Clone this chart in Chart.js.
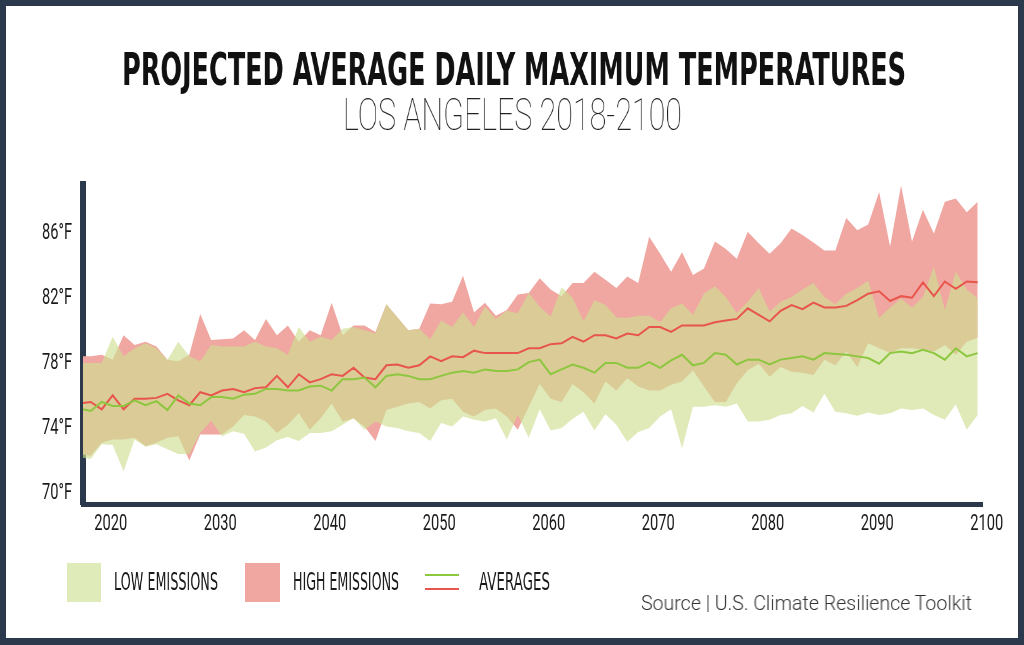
<!DOCTYPE html>
<html>
<head>
<meta charset="utf-8">
<title>Projected Average Daily Maximum Temperatures</title>
<script src="https://cdn.jsdelivr.net/npm/chart.js@4/dist/chart.umd.min.js"></script>
<style>
    html, body { margin: 0; padding: 0; }
    body { width: 1024px; height: 645px; background: #2c384b; position: relative; overflow: hidden; }
    #panel { position: absolute; left: 6px; top: 6px; right: 6px; bottom: 7px; background: #fff; }
    #chartBox { position: absolute; left: 0; top: 0; width: 1024px; height: 645px; }
    .txt { position: absolute; white-space: nowrap; line-height: 1; transform-origin: 0 0; will-change: transform; -webkit-font-smoothing: antialiased; }
    .cond { font-family: 'DejaVu Sans Condensed', 'DejaVu Sans', sans-serif; font-stretch: condensed; }
    #title { left: 122px; top: 47px; font-size: 45px; font-weight: bold; color: #111; }
    #subtitle { left: 343px; top: 92px; font-family: Roboto, sans-serif; font-weight: 100; font-size: 45px; color: #222; }
    .legTxt { top: 569px; font-size: 25px; color: #1a1a1a; }
    #source { left: 641px; top: 593px; font-family: Roboto, sans-serif; font-weight: 300; font-size: 20px; color: #333; }
    .swatch { position: absolute; top: 563px; height: 39px; }
    .legLine { position: absolute; left: 425px; width: 34px; height: 2px; }
</style>
</head>
<body>
<div id="panel"></div>

<div id="title" class="txt cond">PROJECTED AVERAGE DAILY MAXIMUM TEMPERATURES</div>
<div id="subtitle" class="txt">LOS ANGELES 2018-2100</div>

<div id="chartBox"><canvas id="tempChart" width="1024" height="645"></canvas></div>

<!-- Leyenda -->
<div class="swatch" style="left:67px;width:34px;background:#dfebb9"></div>
<div id="legLow" class="txt cond legTxt" style="left:114px">LOW EMISSIONS</div>
<div class="swatch" style="left:245px;width:35px;background:#f0a7a1"></div>
<div id="legHigh" class="txt cond legTxt" style="left:293px">HIGH EMISSIONS</div>
<div class="legLine" style="top:574px;background:#8dc63f"></div>
<div class="legLine" style="top:588px;background:#e8554d"></div>
<div id="legAvg" class="txt cond legTxt" style="left:479px">AVERAGES</div>

<div id="source" class="txt">Source | U.S. Climate Resilience Toolkit</div>

<script>
// Años
const years = [
    2018, 2019, 2020, 2021, 2022, 2023, 2024, 2025, 2026, 2027,
    2028, 2029, 2030, 2031, 2032, 2033, 2034, 2035, 2036, 2037,
    2038, 2039, 2040, 2041, 2042, 2043, 2044, 2045, 2046, 2047,
    2048, 2049, 2050, 2051, 2052, 2053, 2054, 2055, 2056, 2057,
    2058, 2059, 2060, 2061, 2062, 2063, 2064, 2065, 2066, 2067,
    2068, 2069, 2070, 2071, 2072, 2073, 2074, 2075, 2076, 2077,
    2078, 2079, 2080, 2081, 2082, 2083, 2084, 2085, 2086, 2087,
    2088, 2089, 2090, 2091, 2092, 2093, 2094, 2095, 2096, 2097,
    2098, 2099, 2100
];

// Bajas emisiones: rango mínimo / máximo y promedio
const lowMin = [
    72.1, 72.0, 72.9, 72.85, 71.25, 73.2, 72.75, 72.9, 72.6, 72.3,
    72.3, 73.6, 74.35, 73.4, 73.7, 73.55, 72.45, 72.7, 73.15, 73.35,
    73.1, 73.6, 73.6, 73.7, 74.1, 74.5, 73.8, 74.3, 74.0, 73.9,
    73.7, 73.6, 73.1, 74.2, 74.0, 74.6, 74.4, 74.3, 74.5, 73.2,
    74.7, 73.3, 75.05, 73.75, 73.9, 74.45, 74.9, 73.75, 74.75, 74.1,
    73.05, 73.65, 73.9, 74.6, 75.05, 72.65, 75.2, 75.2, 75.3, 75.2,
    75.4, 74.3, 74.3, 74.4, 74.7, 74.8, 75.25, 74.85, 76.0, 74.9,
    74.8, 74.65, 74.85, 74.7, 74.8, 75.1, 75.0, 75.1, 74.7, 74.4,
    75.35, 73.8, 74.7
];
const lowMax = [
    77.9, 77.9, 77.9, 79.5, 78.3, 78.8, 79.1, 78.8, 78.1, 79.2,
    78.3, 78.0, 79.0, 78.9, 78.9, 78.9, 79.2, 78.9, 78.8, 78.4,
    80.1, 79.2, 79.5, 79.3, 80.0, 80.1, 79.9, 79.7, 81.5, 80.7,
    79.9, 80.0, 79.35, 80.5, 80.1, 81.0, 80.1, 81.35, 80.6, 81.1,
    80.95, 82.2, 81.35, 80.75, 82.55, 81.9, 80.45, 81.75, 81.45, 80.7,
    80.65, 80.8, 80.8, 80.4, 81.25, 81.55, 80.85, 82.15, 82.6, 81.95,
    80.95, 81.65, 82.5, 81.05, 81.65, 81.95, 82.4, 82.8, 81.95, 81.5,
    82.15, 82.5, 82.95, 80.65, 81.3, 81.85, 81.3, 81.95, 83.8, 81.15,
    83.5, 82.4, 81.85
];
const lowAvg = [
    75.1, 74.95, 75.5, 75.25, 75.25, 75.6, 75.3, 75.55, 75.0, 75.9,
    75.4, 75.3, 75.8, 75.8, 75.7, 75.95, 76.0, 76.3, 76.3, 76.2,
    76.2, 76.45, 76.5, 76.2, 76.9, 76.9, 77.0, 76.4, 77.1, 77.2,
    77.1, 76.9, 76.9, 77.1, 77.3, 77.4, 77.3, 77.5, 77.4, 77.4,
    77.5, 77.95, 78.1, 77.2, 77.5, 77.8, 77.6, 77.3, 77.9, 77.9,
    77.6, 77.6, 77.95, 77.6, 78.05, 78.4, 77.75, 77.9, 78.5, 78.4,
    77.8, 78.1, 78.1, 77.8, 78.1, 78.2, 78.3, 78.1, 78.5, 78.45,
    78.4, 78.3, 78.2, 77.85, 78.5, 78.6, 78.5, 78.7, 78.5, 78.1,
    78.8, 78.3, 78.5
];

// Altas emisiones: rango mínimo / máximo y promedio
const highMin = [
    72.3, 72.2, 73.0, 73.2, 73.2, 73.3, 72.8, 73.0, 73.3, 73.4,
    71.9, 73.5, 73.5, 73.5, 74.0, 74.7, 74.6, 74.3, 73.6, 74.1,
    74.8, 73.8, 74.5, 75.4, 74.3, 74.5, 74.0, 73.1, 75.0, 75.2,
    75.4, 75.5, 75.1, 75.6, 75.7, 74.9, 74.6, 75.0, 75.1, 74.6,
    73.8, 75.2, 76.6, 75.7, 75.5, 76.6, 76.1, 75.4, 76.75, 76.2,
    76.95, 76.45, 76.2, 76.2, 76.55, 76.75, 77.45, 76.45, 75.5, 75.5,
    76.65, 77.45, 77.85, 77.05, 77.65, 77.35, 77.3, 77.15, 78.1, 77.75,
    78.6, 77.65, 79.1, 78.8, 78.5, 78.8, 78.8, 78.7, 78.6, 79.0,
    78.4, 79.2, 79.45
];
const highMax = [
    78.3, 78.3, 78.4, 78.1, 79.6, 79.0, 79.2, 78.9, 78.1, 78.0,
    78.4, 80.9, 79.3, 79.35, 79.4, 79.9, 79.3, 80.6, 79.6, 80.2,
    79.2, 79.9, 79.6, 81.6, 79.6, 80.2, 80.2, 79.8, 81.5, 80.7,
    79.9, 80.0, 81.55, 81.5, 81.66, 83.25, 81.0, 81.6, 80.8, 81.15,
    82.1, 82.2, 83.1, 82.4, 82.0, 82.8, 82.8, 83.5, 83.0, 82.5,
    83.2, 82.8, 85.65, 84.6, 83.5, 84.7, 83.3, 83.7, 85.35, 84.9,
    84.3, 85.95, 85.25, 84.6, 85.25, 86.15, 85.75, 85.3, 84.8, 84.8,
    86.8, 86.05, 86.4, 88.4, 85.05, 88.8, 85.35, 87.3, 85.85, 87.8,
    88.0, 87.15, 87.8
];
const highAvg = [
    75.4, 75.5, 75.05, 75.9, 75.05, 75.7, 75.7, 75.75, 76.0, 75.6,
    75.3, 76.1, 75.9, 76.2, 76.3, 76.1, 76.35, 76.4, 77.1, 76.4,
    77.2, 76.7, 76.9, 77.2, 77.1, 77.6, 77.0, 76.9, 77.75, 77.8,
    77.6, 77.75, 78.3, 78.0, 78.3, 78.25, 78.65, 78.5, 78.5, 78.5,
    78.5, 78.8, 78.8, 79.05, 79.1, 79.5, 79.2, 79.6, 79.6, 79.4,
    79.7, 79.6, 80.1, 80.1, 79.8, 80.2, 80.2, 80.2, 80.4, 80.5,
    80.6, 81.25, 80.85, 80.45, 81.1, 81.45, 81.2, 81.6, 81.3, 81.3,
    81.4, 81.75, 82.15, 82.3, 81.7, 82.0, 81.9, 82.85, 82.0, 82.9,
    82.45, 82.9, 82.85
];

// Marcas de los ejes
const xTicks = [2020, 2030, 2040, 2050, 2060, 2070, 2080, 2090, 2100];
const yTicks = [70, 74, 78, 82, 86];

const AXIS_COLOR = '#2c384b';

function toPoints(values) {
    return values.map((v, i) => ({ x: years[i], y: v }));
}

function edge(values, order) {
    return {
        data: toPoints(values),
        borderColor: 'rgba(0,0,0,0)',
        borderWidth: 0,
        pointRadius: 0,
        fill: false,
        order: order
    };
}

function fitWidth(id, width) {
    const el = document.getElementById(id);
    const k = width / el.getBoundingClientRect().width;
    el.style.transform = 'scaleX(' + k + ')';
}

// Etiquetas de los ejes en letra estrecha (escala horizontal del contexto)
const narrowTicks = {
    id: 'narrowTicks',
    afterDraw(chart) {
        const c = chart.ctx;
        const xs = chart.scales.x;
        const ys = chart.scales.y;
        c.save();
        c.fillStyle = '#1a1a1a';
        c.font = '22px Roboto, sans-serif';
        c.textBaseline = 'alphabetic';
        const k = 33 / c.measureText('2020').width;

        c.textAlign = 'center';
        xTicks.forEach(v => {
            c.save();
            c.translate(xs.getPixelForValue(v) + 9, xs.top + 26);
            c.scale(k, 1);
            c.fillText(String(v), 0, 0);
            c.restore();
        });

        c.textAlign = 'right';
        yTicks.forEach(v => {
            c.save();
            c.translate(ys.right - 11, ys.getPixelForValue(v) + 8);
            c.scale(k, 1);
            c.fillText(v + '°F', 0, 0);
            c.restore();
        });
        c.restore();
    }
};

function initTexts() {
    fitWidth('title', 784);
    fitWidth('subtitle', 339);
    fitWidth('legLow', 104);
    fitWidth('legHigh', 106);
    fitWidth('legAvg', 71);
    fitWidth('source', 331);
}

function initChart() {
    const ctx = document.getElementById('tempChart');

    const lowBandTop = edge(lowMax, 1);
    lowBandTop.fill = { target: 2 };
    lowBandTop.backgroundColor = 'rgba(206, 223, 146, 0.65)';

    const highBandTop = edge(highMax, 2);
    highBandTop.fill = { target: 4 };
    highBandTop.backgroundColor = 'rgb(240, 167, 161)';

    new Chart(ctx, {
        type: 'line',
        data: {
            datasets: [
                { label: 'Low avg', data: toPoints(lowAvg), borderColor: '#8dc63f', borderWidth: 2, pointRadius: 0, fill: false, order: 0 },
                { label: 'High avg', data: toPoints(highAvg), borderColor: '#e8554d', borderWidth: 2, pointRadius: 0, fill: false, order: 0 },
                edge(lowMin, 1),
                lowBandTop,
                edge(highMin, 2),
                highBandTop
            ]
        },
        options: {
            responsive: false,
            animation: false,
            events: [],
            layout: { padding: { left: 0, right: 42, top: 184, bottom: 101 } },
            elements: { line: { tension: 0 } },
            plugins: {
                legend: { display: false },
                tooltip: { enabled: false }
            },
            scales: {
                x: {
                    type: 'linear',
                    min: 2018.292,
                    max: 2100.393,
                    bounds: 'data',
                    z: 1,
                    grid: { display: false, drawTicks: false },
                    border: { color: AXIS_COLOR, width: 5 },
                    ticks: { display: false },
                    afterBuildTicks: s => { s.ticks = xTicks.map(v => ({ value: v })); },
                    afterFit: s => { s.height = 40; }
                },
                y: {
                    min: 69.232,
                    max: 88.888,
                    bounds: 'data',
                    z: 1,
                    grid: { display: false, drawTicks: false },
                    border: { color: AXIS_COLOR, width: 6 },
                    ticks: { display: false },
                    afterBuildTicks: s => { s.ticks = yTicks.map(v => ({ value: v })); },
                    afterFit: s => { s.width = 83; }
                }
            }
        },
        plugins: [narrowTicks]
    });
}

document.addEventListener('DOMContentLoaded', function() {
    initTexts();
    initChart();
});
</script>
</body>
</html>
